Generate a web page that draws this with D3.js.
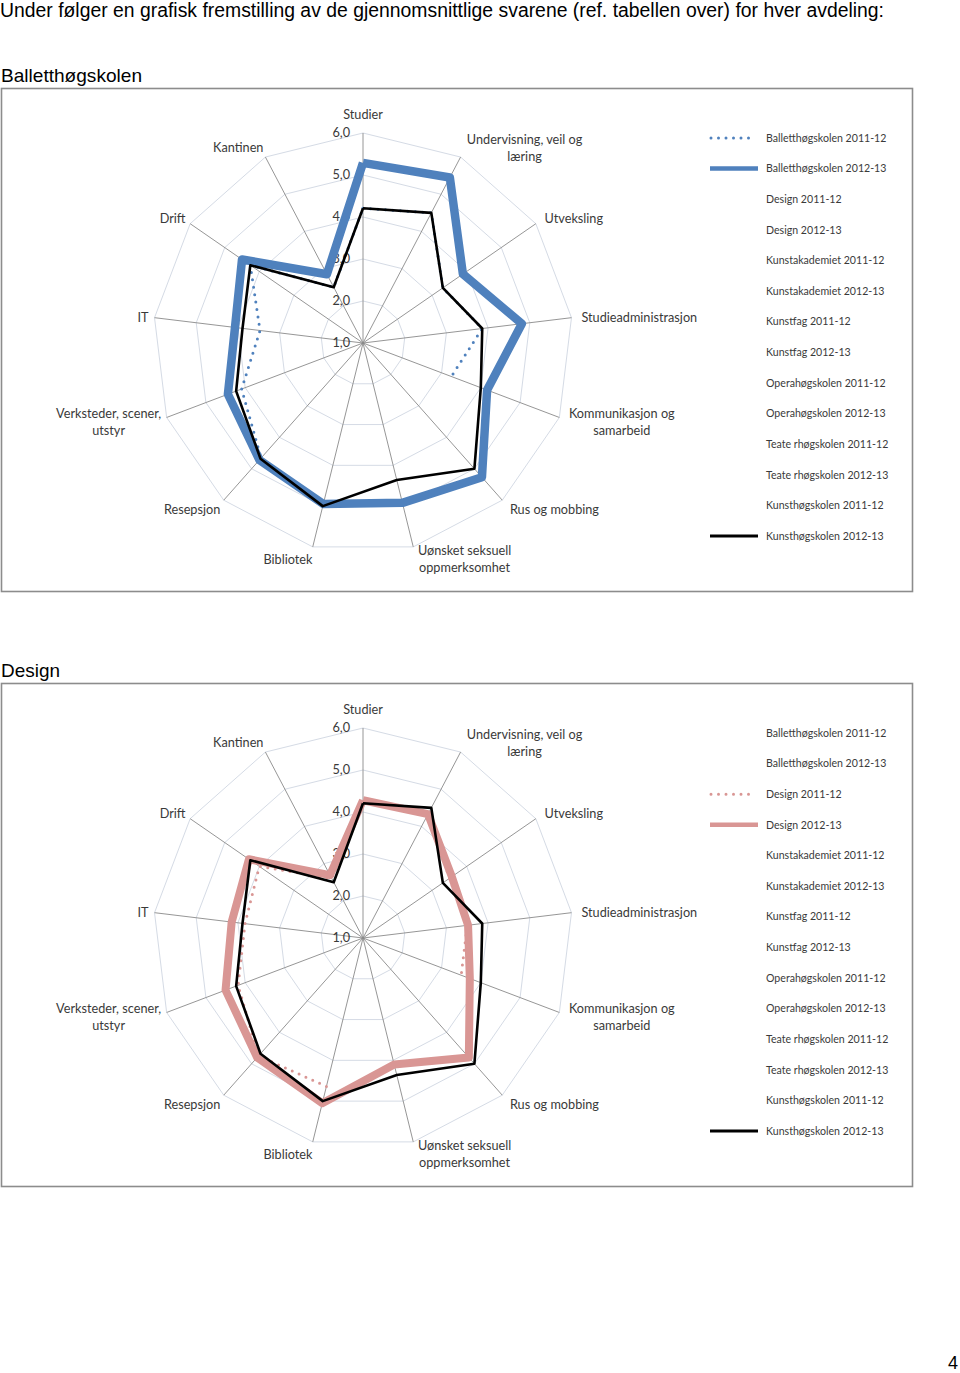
<!DOCTYPE html>
<html>
<head>
<meta charset="utf-8">
<script src="https://cdn.jsdelivr.net/npm/d3@7"></script>
<style>
  html, body { margin: 0; padding: 0; background: #fff; }
  svg { display: block; }
</style>
</head>
<body>
<svg id="page" width="960" height="1373"></svg>
<script>
// ---------------- DATA ----------------
const headingText = "Under følger en grafisk fremstilling av de gjennomsnittlige svarene (ref. tabellen over) for hver avdeling:";
const chartTitles = ["Balletthøgskolen", "Design"];
const pageNumber = "4";

const categories = [
  "Studier", "Undervisning, veil og læring", "Utveksling", "Studieadministrasjon",
  "Kommunikasjon og samarbeid", "Rus og mobbing", "Uønsket seksuell oppmerksomhet",
  "Bibliotek", "Resepsjon", "Verksteder, scener, utstyr", "IT", "Drift", "Kantinen"
];
const categoryLines = [
  ["Studier"], ["Undervisning, veil og", "læring"], ["Utveksling"], ["Studieadministrasjon"],
  ["Kommunikasjon og", "samarbeid"], ["Rus og mobbing"], ["Uønsket seksuell", "oppmerksomhet"],
  ["Bibliotek"], ["Resepsjon"], ["Verksteder, scener,", "utstyr"], ["IT"], ["Drift"], ["Kantinen"]
];
const tickValues = [1, 2, 3, 4, 5, 6];
const tickLabels = ["1,0", "2,0", "3,0", "4,0", "5,0", "6,0"];

const legendNames = [
  "Balletthøgskolen 2011-12", "Balletthøgskolen 2012-13",
  "Design 2011-12", "Design 2012-13",
  "Kunstakademiet 2011-12", "Kunstakademiet 2012-13",
  "Kunstfag 2011-12", "Kunstfag 2012-13",
  "Operahøgskolen 2011-12", "Operahøgskolen 2012-13",
  "Teate rhøgskolen 2011-12", "Teate rhøgskolen 2012-13",
  "Kunsthøgskolen 2011-12", "Kunsthøgskolen 2012-13"
];

// values in category order (null = no answer)
const ballet1112 = [4.21, 4.50, 3.31, 3.86, 3.25, null, null, 5.00, 4.66, 4.09, 3.47, 4.26, 2.50];
const ballet1213 = [5.29, 5.45, 3.89, 4.81, 4.16, 5.27, 4.92, 4.95, 4.72, 4.44, 4.07, 4.50, 2.85];
const design1112 = [4.25, 4.35, 3.50, 3.50, 3.50, null, null, 4.64, 4.75, 4.18, 3.83, 4.00, 2.60];
const design1213 = [4.28, 4.33, 3.57, 3.52, 3.72, 4.80, 4.10, 5.05, 4.80, 4.50, 4.15, 4.30, 2.69];
const kunst1213  = [4.21, 4.50, 3.31, 3.86, 4.00, 5.00, 4.36, 5.00, 4.68, 4.23, 3.89, 4.26, 2.50];

// ---------------- STYLES ----------------
const styles = {
  dottedBlue: { color: "#4F81BD", width: 3, dash: "0 7.5", legendWidth: 3 },
  thickBlue:  { color: "#4F81BD", width: 8.5, dash: null, legendWidth: 4.5 },
  dottedPink: { color: "#D99694", width: 3, dash: "0 7.5", legendWidth: 3 },
  thickPink:  { color: "#D99694", width: 8, dash: null, legendWidth: 4.5 },
  black:      { color: "#000000", width: 2.6, dash: null, legendWidth: 3 }
};

const charts = [
  { title: chartTitles[0], top: 88,
    series: [ { values: ballet1112, style: styles.dottedBlue, legend: 0 },
              { values: ballet1213, style: styles.thickBlue, legend: 1 },
              { values: kunst1213, style: styles.black, legend: 13 } ] },
  { title: chartTitles[1], top: 683,
    series: [ { values: design1112, style: styles.dottedPink, legend: 2 },
              { values: design1213, style: styles.thickPink, legend: 3 },
              { values: kunst1213, style: styles.black, legend: 13 } ] }
];

// ---------------- DRAW ----------------
const svg = d3.select("#page");
svg.append("rect").attr("width", 960).attr("height", 1373).attr("fill", "#fff");

svg.append("text")
  .attr("x", 0).attr("y", 17)
  .attr("font-family", "Liberation Sans, Arial, sans-serif")
  .attr("font-size", 19.5)
  .attr("fill", "#000")
  .attr("textLength", 884).attr("lengthAdjust", "spacingAndGlyphs")
  .text(headingText);

svg.append("text")
  .attr("x", 948).attr("y", 1369)
  .attr("font-family", "Liberation Sans, Arial, sans-serif")
  .attr("font-size", 18)
  .attr("fill", "#000")
  .text(pageNumber);

const N = categories.length;
const R = 210;
const rScale = d3.scaleLinear().domain([tickValues[0], tickValues[tickValues.length - 1]]).range([0, R]);
const aScale = d3.scaleLinear().domain([0, N]).range([0, 2 * Math.PI]);
const chartFont = "Lato, Carlito, Calibri, sans-serif";
const labelSize = 12.7;

charts.forEach(ch => {
  const top = ch.top;
  const cx = 363, cy = top + 255;

  // title
  svg.append("text")
    .attr("x", 1).attr("y", top - 6)
    .attr("font-family", "Liberation Sans, Arial, sans-serif")
    .attr("font-size", 19)
    .attr("fill", "#000")
    .attr("textLength", ch.title === "Design" ? 59 : 141).attr("lengthAdjust", "spacingAndGlyphs")
    .text(ch.title);

  // frame
  svg.append("rect")
    .attr("x", 1.5).attr("y", top + 0.5)
    .attr("width", 911).attr("height", 503)
    .attr("fill", "#fff")
    .attr("stroke", "#8c8c8c").attr("stroke-width", 1.6);

  const g = svg.append("g").attr("transform", `translate(${cx},${cy})`);

  // ring gridlines (polygons)
  const ringLine = d3.lineRadial().curve(d3.curveLinearClosed)
    .angle((d, i) => aScale(i)).radius(d => rScale(d));
  tickValues.slice(1).forEach(v => {
    g.append("path")
      .attr("d", ringLine(d3.range(N).map(() => v)))
      .attr("fill", "none")
      .attr("stroke", "#d5dbe5").attr("stroke-width", 1);
  });

  // spokes
  d3.range(N).forEach(i => {
    const a = aScale(i);
    g.append("line")
      .attr("x1", 0).attr("y1", 0)
      .attr("x2", R * Math.sin(a)).attr("y2", -R * Math.cos(a))
      .attr("stroke", "#8a8a8a").attr("stroke-width", 0.9);
  });

  // tick labels
  tickValues.forEach((v, k) => {
    g.append("text")
      .attr("x", -13).attr("y", -rScale(v))
      .attr("dy", "0.35em")
      .attr("text-anchor", "end")
      .attr("font-family", chartFont).attr("font-size", labelSize)
      .attr("fill", "#3a3a3a")
      .text(tickLabels[k]);
  });

  // category labels
  const lineH = 17;
  categoryLines.forEach((lines, i) => {
    const a = aScale(i);
    const s = Math.sin(a), c = Math.cos(a);
    const ex = R * s, ey = -R * c;
    const t = g.append("text")
      .attr("font-family", chartFont).attr("font-size", labelSize)
      .attr("fill", "#3a3a3a").attr("text-anchor", "middle");
    const spans = lines.map(l => t.append("tspan").text(l));
    const w = d3.max(spans, sp => sp.node().getComputedTextLength());
    const h = lines.length * lineH;
    let bx, by;
    if (Math.abs(s) < 0.1) {
      bx = ex;
      by = ey - Math.sign(c) * (h / 2 + 9.5);
    } else {
      const pad = s > 0 ? 3 + 7 * Math.abs(s) : 7.5 * Math.abs(s) - 1.5;
      bx = s > 0 ? ex + pad + w / 2 : ex - pad - w / 2;
      by = ey - c * 11.5 + 1;
    }
    spans.forEach((sp, k) => {
      sp.attr("x", bx).attr("y", by - h / 2 + lineH * (k + 0.5)).attr("dy", "0.35em");
    });
  });

  // series
  const seriesLine = d3.lineRadial()
    .defined(d => d.v != null)
    .angle(d => aScale(d.i))
    .radius(d => rScale(d.v));
  ch.series.forEach(se => {
    const pts = se.values.map((v, i) => ({ v, i }));
    pts.push({ v: se.values[0], i: N });
    g.append("path")
      .attr("d", seriesLine(pts))
      .attr("fill", "none")
      .attr("stroke", se.style.color)
      .attr("stroke-width", se.style.width)
      .attr("stroke-linejoin", "round")
      .attr("stroke-linecap", se.style.dash ? "round" : "butt")
      .attr("stroke-dasharray", se.style.dash);
  });

  // legend
  const lg = svg.append("g");
  legendNames.forEach((name, k) => {
    const y = top + 50 + k * 30.62;
    lg.append("text")
      .attr("x", 766).attr("y", y).attr("dy", "0.35em")
      .attr("font-family", chartFont).attr("font-size", 10.6)
      .attr("fill", "#3a3a3a")
      .text(name);
    const se = ch.series.find(s => s.legend === k);
    if (se) {
      lg.append("line")
        .attr("x1", se.style.dash ? 711 : 710).attr("x2", se.style.dash ? 756 : 758)
        .attr("y1", y).attr("y2", y)
        .attr("stroke", se.style.color)
        .attr("stroke-width", se.style.legendWidth)
        .attr("stroke-linecap", se.style.dash ? "round" : "butt")
        .attr("stroke-dasharray", se.style.dash);
    }
  });
});
</script>
</body>
</html>
